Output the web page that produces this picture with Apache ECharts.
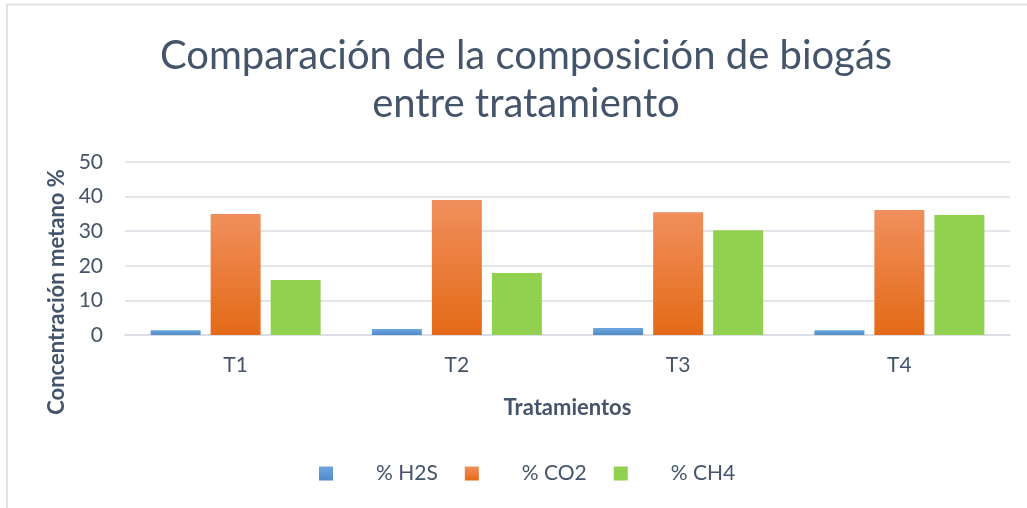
<!DOCTYPE html>
<html>
<head>
<meta charset="utf-8">
<script src="https://cdn.jsdelivr.net/npm/echarts@6/dist/echarts.min.js"></script>
<style>
  html, body { margin: 0; padding: 0; background: #fff; }
  #chart { width: 1027px; height: 508px; }
</style>
</head>
<body>
<div id="chart"></div>
<script>
// datos
const tratamientos = ["T1", "T2", "T3", "T4"];
const h2s = [1.4, 1.7, 2.0, 1.4];
const co2 = [35.0, 39.0, 35.5, 36.1];
const ch4 = [15.9, 17.9, 30.3, 34.7];
const yTicks = [0, 10, 20, 30, 40, 50];

const textColor = "#44546a";
const font = "Lato";

function grad(top, bottom) {
  return new echarts.graphic.LinearGradient(0, 0, 0, 1, [
    { offset: 0, color: top },
    { offset: 1, color: bottom },
  ]);
}

const chart = echarts.init(document.getElementById("chart"));

const option = {
  animation: false,
  backgroundColor: "#fff",
  textStyle: { fontFamily: font, color: textColor },
  title: {
    text: "Comparación de la composición de biogás\nentre tratamiento",
    left: 521,
    top: 27,
    textAlign: "center",
    textStyle: {
      fontFamily: font,
      fontSize: 40,
      fontWeight: "normal",
      color: textColor,
      lineHeight: 48,
    },
  },
  grid: { left: 125, right: 17, top: 162, bottom: 173 },
  legend: {
    left: 314,
    top: 458,
    icon: "rect",
    itemWidth: 14,
    itemHeight: 14,
    itemGap: 27,
    textStyle: {
      fontFamily: font,
      fontSize: 21,
      color: textColor,
      padding: [0, 0, 0, 38],
    },
    data: ["% H2S", "% CO2", "% CH4"],
  },
  xAxis: {
    type: "category",
    data: tratamientos,
    name: "Tratamientos",
    nameLocation: "middle",
    nameGap: 62,
    nameTextStyle: { fontFamily: font, fontSize: 22, fontWeight: "bold", color: textColor },
    axisLine: { lineStyle: { color: "#d9dde3", width: 1.5 } },
    axisTick: { show: false },
    axisLabel: { fontFamily: font, fontSize: 21, color: textColor, margin: 20 },
  },
  yAxis: {
    type: "value",
    min: yTicks[0],
    max: yTicks[yTicks.length - 1],
    interval: 10,
    axisLine: { show: false },
    axisTick: { show: false },
    axisLabel: { fontFamily: font, fontSize: 21, color: textColor, margin: 22 },
    splitLine: { lineStyle: { color: "#d9dde3", width: 1.5 } },
  },
  series: [
    {
      name: "% H2S",
      type: "bar",
      data: h2s,
      barWidth: 50,
      barGap: "20%",
      itemStyle: { color: grad("#6ea6dd", "#4f8bc8") },
    },
    {
      name: "% CO2",
      type: "bar",
      data: co2,
      barWidth: 50,
      barGap: "20%",
      itemStyle: { color: grad("#f08f5c", "#e46a17") },
    },
    {
      name: "% CH4",
      type: "bar",
      data: ch4,
      barWidth: 50,
      barGap: "20%",
      itemStyle: { color: "#92d050" },
    },
  ],
  graphic: [
    {
      type: "text",
      x: 57,
      y: 292,
      rotation: Math.PI / 2,
      style: {
        text: "Concentración metano %",
        fontFamily: font,
        fontSize: 22,
        fontWeight: "bold",
        fill: textColor,
        align: "center",
        verticalAlign: "middle",
      },
    },
    {
      type: "polyline",
      shape: { points: [[7, 508], [7, 4.5], [1027, 4.5]] },
      style: { stroke: "#dfe3e8", lineWidth: 2, fill: null },
    },
  ],
};

chart.setOption(option);
</script>
</body>
</html>
